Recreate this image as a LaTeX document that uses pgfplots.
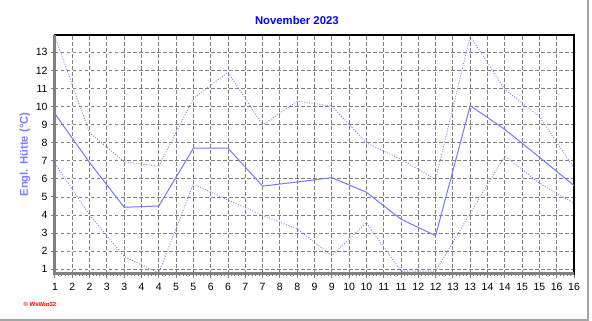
\documentclass[border=0pt]{standalone}
\usepackage{fontspec}
\setmainfont{Liberation Sans}
\usepackage{pgfplots}
\usepackage{pgfplotstable}
\pgfplotsset{compat=1.18}
\definecolor{ser}{RGB}{120,120,255}
\definecolor{gridc}{RGB}{128,128,128}
\definecolor{ttl}{RGB}{0,0,255}
\definecolor{ylab}{RGB}{128,128,255}
\definecolor{framec}{RGB}{165,165,165}
\pgfplotstableread{
day  tmax   tmean  tmin
1    13.85  9.60   6.85
2    8.55   6.90   4.00
3    6.95   4.43   1.70
4    6.70   4.50   0.80
5    10.45  7.70   5.72
6    11.90  7.70   4.83
7    8.98   5.60   3.98
8    10.30  5.83   3.23
9    10.03  6.07   1.76
10   8.00   5.26   3.58
11   7.08   3.77   0.90
12   5.98   2.86   0.90
13   13.90  10.05  4.10
14   10.95  8.74   7.27
15   9.45   7.20   5.76
16   6.60   5.63   4.65
}\datatable
\begin{document}
\begin{tikzpicture}[x=1pt,y=1pt]
\useasboundingbox (0,0) rectangle (592,321);
\fill[white] (0,0) rectangle (592,321);
\draw[framec, line width=1.5pt] (588,321) -- (588,0.75) -- (0,0.75);
\node[text=red, font=\bfseries\fontsize{6}{7}\selectfont, anchor=west] at (20,17) {\textcopyright\ WsWin32};
\begin{axis}[
  at={(55pt,47pt)}, anchor=south west, scale only axis,
  width=519pt, height=239pt,
  xmin=1, xmax=16, ymin=0.74, ymax=13.96,
  xtick={1,1.5,...,16},
  xticklabels={1,2,2,3,3,4,4,5,5,6,6,7,7,8,8,9,9,10,10,11,11,12,12,13,13,14,14,15,15,16,16},
  ytick={1,...,13},
  minor x tick num=4,
  tick pos=left,
  tick align=outside,
  major tick length=4pt, minor tick length=2.5pt,
  tick style={gridc, line width=1pt},
  grid=major,
  major grid style={gridc, line width=0.9pt, dash pattern=on 3.5pt off 2.5pt},
  axis line style={black, line width=1.5pt},
  ticklabel style={font=\fontsize{10.5}{12}\selectfont},
  xticklabel style={yshift=-2pt},
  /pgf/number format/assume math mode=true,
  title={November 2023},
  title style={at={(0.466,1)}, anchor=center, yshift=8.5pt, text=ttl, font=\bfseries\fontsize{11.3}{13}\selectfont},
  ylabel={Engl. Hütte (°C)},
  ylabel style={at={(axis description cs:-0.0578,0.5)}, anchor=center, text=ylab, font=\bfseries\fontsize{11.3}{13}\selectfont},
  clip=false,
]
\addplot[ser, line width=0.8pt, dash pattern=on 1pt off 1.6pt] table[x=day, y=tmax] {\datatable};
\addplot[ser, line width=1pt] table[x=day, y=tmean] {\datatable};
\addplot[ser, line width=0.8pt, dash pattern=on 1pt off 1.6pt] table[x=day, y=tmin] {\datatable};
\draw[gridc, line width=3pt] (rel axis cs:0,1) -- (rel axis cs:0,0) -- (rel axis cs:1,0);
\end{axis}
\end{tikzpicture}
\end{document}
